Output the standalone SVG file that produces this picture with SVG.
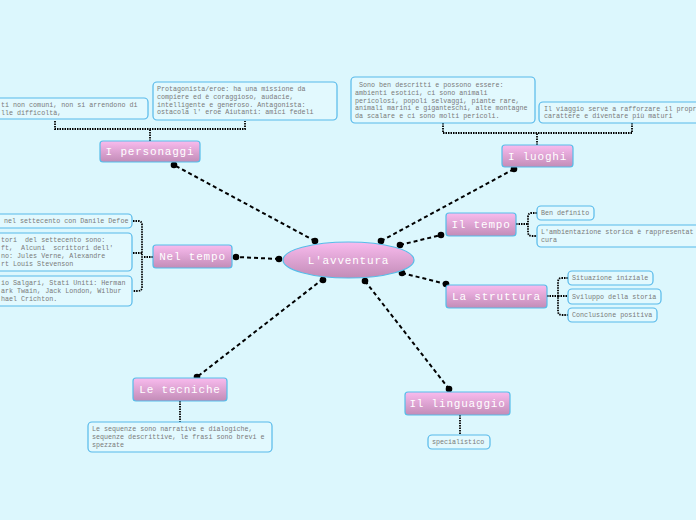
<svg xmlns="http://www.w3.org/2000/svg" width="696" height="520" viewBox="0 0 696 520">
<defs>
<linearGradient id="pink" x1="0" y1="0" x2="0" y2="1">
<stop offset="0" stop-color="#f9bbee"/>
<stop offset="1" stop-color="#c28cb7"/>
</linearGradient>
<style>
.node rect.main{fill:url(#pink);stroke:#56bde9;stroke-width:1.2}
.ttl{font-family:"Liberation Mono",monospace;font-size:11px;letter-spacing:0.8px;fill:#ffffff;text-anchor:middle}
.box{fill:#e2f9fe;stroke:#56b9ea;stroke-width:1.2}
.sm{font-family:"Liberation Mono",monospace;font-size:6.7px;fill:#7a7a7a;white-space:pre}
.dash{fill:none;stroke:#000;stroke-width:2;stroke-dasharray:4 3}
.dot{fill:none;stroke:#000;stroke-width:1.8;stroke-dasharray:1.5 1}
.pt{fill:#000}
</style>
</defs>
<rect width="696" height="520" fill="#dcf7fd"/>
<g id="connectors">
<path class="dash" d="M315 241 L174 165"/>
<path class="dash" d="M381 241 L514 169"/>
<path class="dash" d="M400 245 L441 235"/>
<path class="dash" d="M402 273 L446 284"/>
<path class="dash" d="M279 259 L236 257"/>
<path class="dash" d="M323 279 L197 377"/>
<path class="dash" d="M365 281 L449 389"/>
<circle class="pt" cx="315" cy="241" r="3.3"/><circle class="pt" cx="174" cy="165" r="3.3"/>
<circle class="pt" cx="381" cy="241" r="3.3"/><circle class="pt" cx="514" cy="169" r="3.3"/>
<circle class="pt" cx="400" cy="245" r="3.3"/><circle class="pt" cx="441" cy="235" r="3.3"/>
<circle class="pt" cx="402" cy="273" r="3.3"/><circle class="pt" cx="446" cy="284" r="3.3"/>
<circle class="pt" cx="279" cy="259" r="3.3"/><circle class="pt" cx="236" cy="257" r="3.3"/>
<circle class="pt" cx="323" cy="280" r="3.3"/><circle class="pt" cx="197" cy="377" r="3.3"/>
<circle class="pt" cx="365" cy="281" r="3.3"/><circle class="pt" cx="449" cy="389" r="3.3"/>
<path class="dot" d="M150 141 V129 M55 121 V129 H245 V121"/>
<path class="dot" d="M537 145 V133 M443 123 V133 H632 V123"/>
<path class="dot" d="M153 257 H143 M133 221 H138 Q142 221 142 225 V287 Q142 291 138 291 H133 M133 253 H143"/>
<path class="dot" d="M516 224 H528 M537 213 H532 Q528 213 528 217 V232 Q528 236 532 236 H537"/>
<path class="dot" d="M547 296 H558 M568 278 H562 Q558 278 558 282 V311 Q558 315 562 315 H568 M558 296 H568"/>
<path class="dot" d="M180 401 V422"/>
<path class="dot" d="M460 415 V435"/>
</g>
<g id="center">
<ellipse cx="348.5" cy="260" rx="65.5" ry="18" fill="url(#pink)" stroke="#56bde9" stroke-width="1.2"/>
<text class="ttl" x="348.5" y="264">L'avventura</text>
</g>
<g id="personaggi" class="node">
<rect class="main" x="100" y="141" width="100" height="21" rx="3"/>
<text class="ttl" x="150" y="155">I personaggi</text>
</g>
<g id="luoghi" class="node">
<rect class="main" x="502" y="145" width="71" height="22" rx="3"/>
<text class="ttl" x="537.5" y="160">I luoghi</text>
</g>
<g id="neltempo" class="node">
<rect class="main" x="153" y="245" width="79" height="23" rx="3"/>
<text class="ttl" x="192.5" y="260">Nel tempo</text>
</g>
<g id="iltempo" class="node">
<rect class="main" x="446" y="213" width="70" height="23" rx="3"/>
<text class="ttl" x="481" y="228">Il tempo</text>
</g>
<g id="struttura" class="node">
<rect class="main" x="446" y="285" width="101" height="23" rx="3"/>
<text class="ttl" x="496.5" y="300">La struttura</text>
</g>
<g id="tecniche" class="node">
<rect class="main" x="133" y="378" width="94" height="23" rx="3"/>
<text class="ttl" x="180" y="393">Le tecniche</text>
</g>
<g id="linguaggio" class="node">
<rect class="main" x="405" y="392" width="105" height="23" rx="3"/>
<text class="ttl" x="457.5" y="407">Il linguaggio</text>
</g>
<g id="pers-a">
<rect class="box" x="-20" y="98" width="168" height="21" rx="4"/>
<text class="sm" x="1" y="106.5">ti non comuni, non si arrendono di</text>
<text class="sm" x="1" y="114.5">lle difficoltà,</text>
</g>
<g id="pers-b">
<rect class="box" x="153" y="82" width="184" height="38" rx="4"/>
<text class="sm" x="157" y="91">Protagonista/eroe: ha una missione da</text>
<text class="sm" x="157" y="98.8">compiere ed è coraggioso, audacie,</text>
<text class="sm" x="157" y="106.6">intelligente e generoso. Antagonista:</text>
<text class="sm" x="157" y="114.4">ostacola l' eroe Aiutanti: amici fedeli</text>
</g>
<g id="luoghi-a">
<rect class="box" x="351" y="77" width="184" height="46" rx="4"/>
<text class="sm" x="355" y="87"> Sono ben descritti e possono essere:</text>
<text class="sm" x="355" y="94.8">ambienti esotici, ci sono animali</text>
<text class="sm" x="355" y="102.6">pericolosi, popoli selvaggi, piante rare,</text>
<text class="sm" x="355" y="110.4">animali marini e giganteschi, alte montagne</text>
<text class="sm" x="355" y="118.2">da scalare e ci sono molti pericoli.</text>
</g>
<g id="luoghi-b">
<rect class="box" x="539" y="102" width="180" height="21" rx="4"/>
<text class="sm" x="544" y="110.5">Il viaggio serve a rafforzare il propr</text>
<text class="sm" x="544" y="118.3">carattere e diventare più maturi</text>
</g>
<g id="nt-a">
<rect class="box" x="-20" y="214" width="152" height="14" rx="4"/>
<text class="sm" x="4" y="223.3">nel settecento con Danile Defoe</text>
</g>
<g id="nt-b">
<rect class="box" x="-20" y="233" width="152" height="38" rx="4"/>
<text class="sm" x="1" y="241.5">tori  del settecento sono:</text>
<text class="sm" x="1" y="249.5">ft,  Alcuni  scrittori dell'</text>
<text class="sm" x="1" y="257.5">no: Jules Verne, Alexandre</text>
<text class="sm" x="1" y="265.5">rt Louis Stevenson</text>
</g>
<g id="nt-c">
<rect class="box" x="-20" y="276" width="152" height="30" rx="4"/>
<text class="sm" x="1" y="285">io Salgari, Stati Uniti: Herman</text>
<text class="sm" x="1" y="293">ark Twain, Jack London, Wilbur</text>
<text class="sm" x="1" y="301">hael Crichton.</text>
</g>
<g id="it-a">
<rect class="box" x="537" y="206" width="57" height="14" rx="4"/>
<text class="sm" x="541" y="215.3">Ben definito</text>
</g>
<g id="it-b">
<rect class="box" x="537" y="225" width="180" height="22" rx="4"/>
<text class="sm" x="541" y="234">L'ambientazione storica è rappresentat</text>
<text class="sm" x="541" y="242">cura</text>
</g>
<g id="st-a">
<rect class="box" x="568" y="271" width="85" height="14" rx="4"/>
<text class="sm" x="572" y="280.3">Situazione iniziale</text>
</g>
<g id="st-b">
<rect class="box" x="568" y="289" width="93" height="15" rx="4"/>
<text class="sm" x="572" y="298.8">Sviluppo della storia</text>
</g>
<g id="st-c">
<rect class="box" x="568" y="308" width="89" height="14" rx="4"/>
<text class="sm" x="572" y="317.3">Conclusione positiva</text>
</g>
<g id="tec-a">
<rect class="box" x="88" y="422" width="184" height="30" rx="4"/>
<text class="sm" x="92" y="431">Le sequenze sono narrative e dialogiche,</text>
<text class="sm" x="92" y="439">sequenze descrittive, le frasi sono brevi e</text>
<text class="sm" x="92" y="447">spezzate</text>
</g>
<g id="ling-a">
<rect class="box" x="428" y="435" width="62" height="14" rx="4"/>
<text class="sm" x="432" y="444.3">specialistico</text>
</g>
</svg>
